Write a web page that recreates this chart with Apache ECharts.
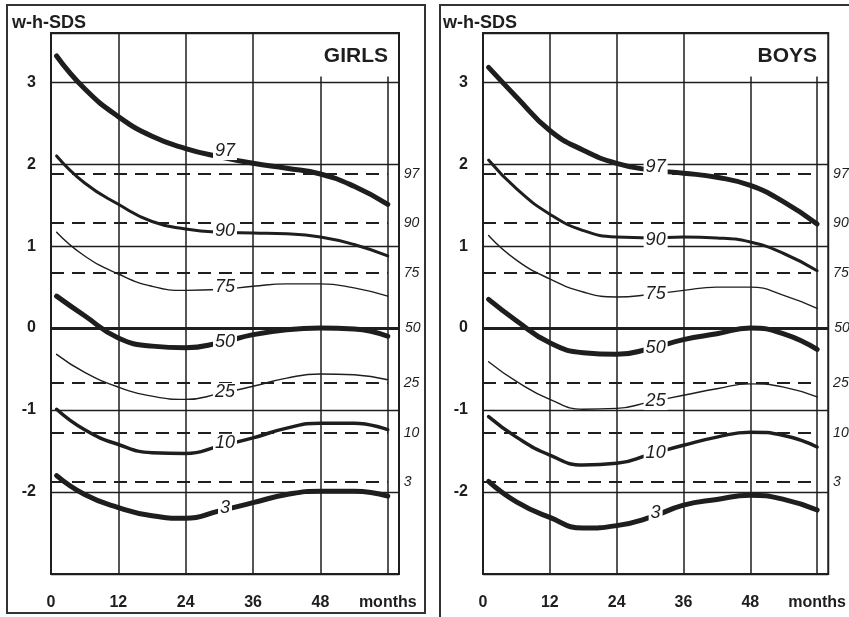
<!DOCTYPE html>
<html>
<head>
<meta charset="utf-8">
<script src="https://cdn.jsdelivr.net/npm/echarts@6/dist/echarts.min.js"></script>
<style>
html,body{margin:0;padding:0;background:#fff;}
#chart{width:849px;height:617px;}
</style>
</head>
<body>
<div id="chart"></div>
<script>
var months = [1, 6, 12, 18, 24, 30, 36, 42, 48, 54, 60];
var percentiles = ['97', '90', '75', '50', '25', '10', '3'];

// girls w-h-SDS percentile curves
var girls97 = [3.32, 2.92, 2.58, 2.34, 2.19, 2.09, 2.01, 1.95, 1.88, 1.73, 1.51];
var girls90 = [2.10, 1.77, 1.51, 1.30, 1.21, 1.17, 1.16, 1.15, 1.11, 1.02, 0.88];
var girls75 = [1.17, 0.88, 0.66, 0.51, 0.46, 0.47, 0.51, 0.54, 0.54, 0.49, 0.39];
var girls50 = [0.39, 0.15, -0.12, -0.22, -0.24, -0.18, -0.08, -0.02, 0.00, -0.01, -0.10];
var girls25 = [-0.32, -0.54, -0.72, -0.83, -0.87, -0.80, -0.71, -0.61, -0.56, -0.57, -0.63];
var girls10 = [-0.99, -1.24, -1.42, -1.52, -1.53, -1.44, -1.34, -1.22, -1.16, -1.16, -1.24];
var girls3 = [-1.80, -2.03, -2.19, -2.29, -2.32, -2.23, -2.13, -2.03, -1.99, -1.99, -2.05];

// boys w-h-SDS percentile curves
var boys97 = [3.18, 2.82, 2.41, 2.17, 2.01, 1.93, 1.89, 1.84, 1.74, 1.54, 1.27];
var boys90 = [2.05, 1.70, 1.39, 1.19, 1.11, 1.10, 1.11, 1.10, 1.05, 0.91, 0.70];
var boys75 = [1.13, 0.83, 0.60, 0.44, 0.38, 0.41, 0.46, 0.50, 0.50, 0.40, 0.24];
var boys50 = [0.35, 0.09, -0.18, -0.30, -0.32, -0.25, -0.14, -0.07, 0.00, -0.07, -0.26];
var boys25 = [-0.41, -0.65, -0.87, -0.99, -0.98, -0.90, -0.82, -0.74, -0.68, -0.72, -0.84];
var boys10 = [-1.08, -1.33, -1.55, -1.67, -1.65, -1.54, -1.43, -1.33, -1.27, -1.31, -1.45];
var boys3 = [-1.87, -2.12, -2.31, -2.44, -2.41, -2.31, -2.16, -2.09, -2.04, -2.09, -2.22];

// where the inline percentile numbers sit on the curves
var labelMonth = 31;
var girlsLabelY = [2.16, 1.19, 0.50, -0.17, -0.78, -1.40, -2.20];
var boysLabelY = [1.96, 1.08, 0.41, -0.24, -0.89, -1.52, -2.25];

// reference lines (dashed) with the right-hand labels
var refLevels = [1.88, 1.28, 0.67, 0, -0.67, -1.28, -1.88];
var xTicks = [0, 12, 24, 36, 48, 60];

var lineWidths = {'97': 5, '90': 3, '75': 1.4, '50': 5, '25': 1.4, '10': 3.5, '3': 5};
var ink = '#1e1e1e';
var font = 'Liberation Sans, Arial, sans-serif';

var chart = echarts.init(document.getElementById('chart'));

function makeXAxis(idx) {
	return {
		type: 'value', gridIndex: idx, min: 0, max: 62, interval: 12,
		axisLine: {show: false}, axisTick: {show: false}, splitLine: {show: false},
		axisLabel: {
			margin: 21, fontSize: 16, fontWeight: 'bold', color: ink, fontFamily: font,
			formatter: function (v) {
				if (v === 60) return 'months';
				return xTicks.indexOf(v) >= 0 ? String(v) : '';
			}
		}
	};
}
function makeYAxis(idx) {
	return {
		type: 'value', gridIndex: idx, min: -3, max: 3.6, interval: 1,
		axisLine: {show: false}, axisTick: {show: false},
		splitLine: {show: true, lineStyle: {color: ink, width: 1.3}},
		axisLabel: {
			margin: 15, fontSize: 16, fontWeight: 'bold', color: ink, fontFamily: font,
			formatter: function (v) {
				return (v >= -2 && v <= 3 && Math.round(v) === v) ? String(v) : '';
			}
		}
	};
}

function refSeries(idx) {
	var lines = [];
	// vertical grid lines
	xTicks.forEach(function (m) {
		if (m === 0) return;
		var top = m >= 48 ? 3.07 : 3.6;
		lines.push([{coord: [m, -3], lineStyle: {type: 'solid', width: 1.5}}, {coord: [m, top]}]);
	});
	refLevels.forEach(function (lv, i) {
		var zero = lv === 0;
		lines.push([{
			coord: [0, lv],
			lineStyle: zero ? {type: 'solid', width: 3} : {type: [13, 8], width: 2},
			label: {
				show: true, position: 'end', formatter: percentiles[i], distance: zero ? 6 : 16,
				fontStyle: 'italic', fontSize: 14, color: ink, fontFamily: font
			}
		}, {coord: [zero ? 62 : 60, lv]}]);
	});
	return {
		type: 'line', xAxisIndex: idx, yAxisIndex: idx, data: [], z: 1, silent: true,
		markLine: {
			symbol: 'none', silent: true, animation: false,
			lineStyle: {color: ink},
			label: {show: false},
			data: lines
		}
	};
}

function curveSeries(idx, curves, labelY) {
	var out = [];
	percentiles.forEach(function (p, i) {
		out.push({
			type: 'line', name: p, xAxisIndex: idx, yAxisIndex: idx,
			data: months.map(function (m, j) { return [m, curves[i][j]]; }),
			smooth: 0.5, showSymbol: false, z: 3, animation: false,
			lineStyle: {color: ink, width: lineWidths[p], cap: 'round'}
		});
	});
	out.push({
		type: 'scatter', xAxisIndex: idx, yAxisIndex: idx, z: 5, animation: false,
		symbol: 'circle', symbolSize: 1, itemStyle: {color: 'rgba(255,255,255,0)', opacity: 1},
		data: labelY.map(function (v, i) { return {value: [labelMonth, v], name: percentiles[i]}; }),
		label: {
			show: true, position: 'inside', formatter: '{b}', opacity: 1,
			fontStyle: 'italic', fontSize: 18, color: ink, fontFamily: font,
			backgroundColor: '#fff', padding: [0, 2]
		}
	});
	return out;
}

var girlsCurves = [girls97, girls90, girls75, girls50, girls25, girls10, girls3];
var boysCurves = [boys97, boys90, boys75, boys50, boys25, boys10, boys3];

var option = {
	backgroundColor: '#fff',
	animation: false,
	title: [
		{text: 'w-h-SDS', left: 12, top: 14, padding: 0, textStyle: {fontSize: 18, fontWeight: 'bold', color: ink, fontFamily: font}},
		{text: 'GIRLS', right: 461, top: 46, padding: 0, textStyle: {fontSize: 21, fontWeight: 'bold', color: ink, fontFamily: font}},
		{text: 'w-h-SDS', left: 443, top: 14, padding: 0, textStyle: {fontSize: 18, fontWeight: 'bold', color: ink, fontFamily: font}},
		{text: 'BOYS', right: 32, top: 46, padding: 0, textStyle: {fontSize: 21, fontWeight: 'bold', color: ink, fontFamily: font}}
	],
	grid: [
		{left: 51, top: 33, width: 348, height: 541, show: true, borderColor: ink, borderWidth: 2},
		{left: 483, top: 33, width: 347, height: 541, show: true, borderColor: ink, borderWidth: 2}
	],
	xAxis: [makeXAxis(0), makeXAxis(1)],
	yAxis: [makeYAxis(0), makeYAxis(1)],
	graphic: [
		{type: 'rect', shape: {x: 7, y: 5, width: 418, height: 608}, style: {fill: 'none', stroke: '#333', lineWidth: 2}, z: 0},
		{type: 'rect', shape: {x: 440, y: 5, width: 430, height: 620}, style: {fill: 'none', stroke: '#333', lineWidth: 2}, z: 0}
	],
	series: [].concat(
		[refSeries(0)], curveSeries(0, girlsCurves, girlsLabelY),
		[refSeries(1)], curveSeries(1, boysCurves, boysLabelY)
	)
};
chart.setOption(option);
</script>
</body>
</html>
